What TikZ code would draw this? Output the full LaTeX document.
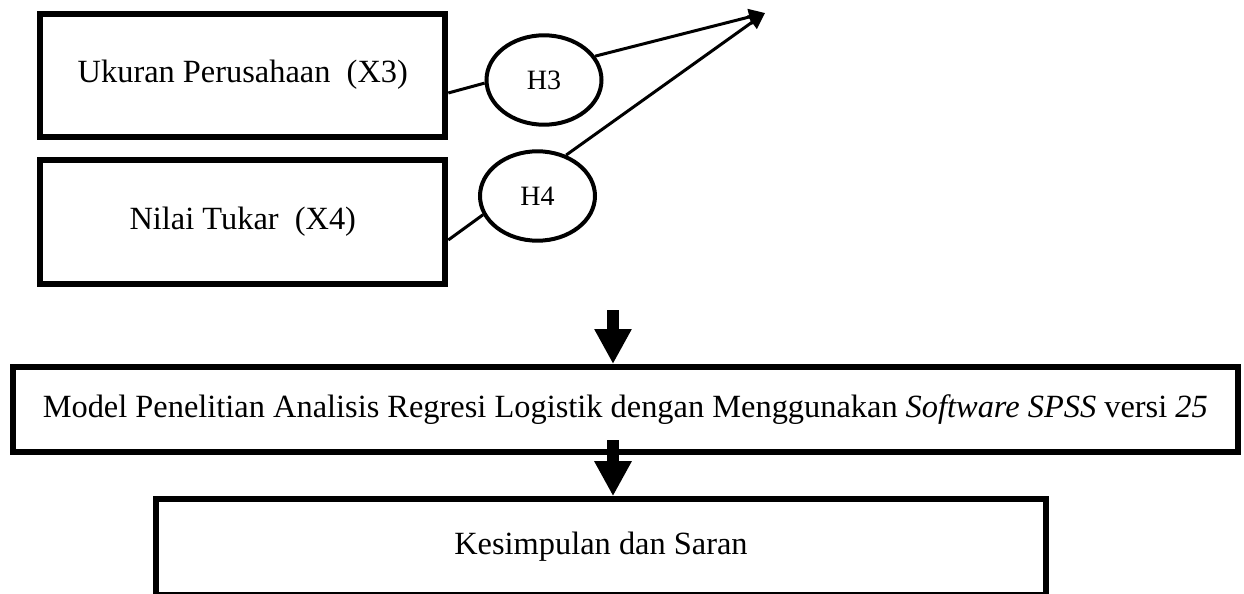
\documentclass[tikz,border=0pt]{standalone}
\usepackage{fontspec}
\setmainfont{Liberation Serif}
\usetikzlibrary{shapes.geometric,arrows.meta,positioning,calc}

\begin{document}
\begin{tikzpicture}[
    x=0.5pt, y=-0.5pt,
    font=\fontsize{16.2}{19}\selectfont,
    box/.style={rectangle, draw, line width=3pt, minimum width=202.5pt, minimum height=61.5pt, align=center, inner sep=0pt},
    hyp/.style={ellipse, draw, line width=2pt, minimum width=57.5pt, minimum height=44.7pt, inner sep=0pt, font=\fontsize{14}{16}\selectfont},
    link/.style={line width=1.5pt},
    arrow/.style={-{Triangle[length=8pt, width=8pt]}, line width=1.5pt},
    blockarrow/.style={-{Triangle[length=17.5pt, width=17.5pt]}, line width=6pt},
]
    \useasboundingbox (0,0) rectangle (1244,594);

    % Variables
    \node[box] (x3) at (242.8,75) {Ukuran Perusahaan~ (X3)};
    \node[box, minimum height=61.75pt] (x4) at (242.8,222) {Nilai Tukar~ (X4)};

    % Hypotheses
    \node[hyp] (h3) at (544,80) {H3};
    \node[hyp] (h4) at (537.5,196) {H4};
    \coordinate (tip) at (765,13);

    % Model and result
    \node[box, minimum width=612.5pt, minimum height=42.5pt] (model) at (625.3,409.5)
        {Model Penelitian Analisis Regresi Logistik dengan Menggunakan \textit{Software SPSS} versi \textit{25}};
    \node[box, minimum width=445pt, minimum height=47.8pt] (hasil) at (601,547)
        {Kesimpulan dan Saran};
    \coordinate (down) at (613,310);

    % Arrows
    \draw[link] (x3.-5) -- (h3.183);
    \draw[arrow] (h3.25) -- (tip);
    \draw[link] (x4.-5) -- (h4.199);
    \draw[arrow] (h4.55) -- (tip);
    \draw[blockarrow] (down) -- (down |- model.north);
    \draw[blockarrow] ($(down |- model.south)+(0,-15)$) -- (down |- hasil.north);
\end{tikzpicture}
\end{document}
